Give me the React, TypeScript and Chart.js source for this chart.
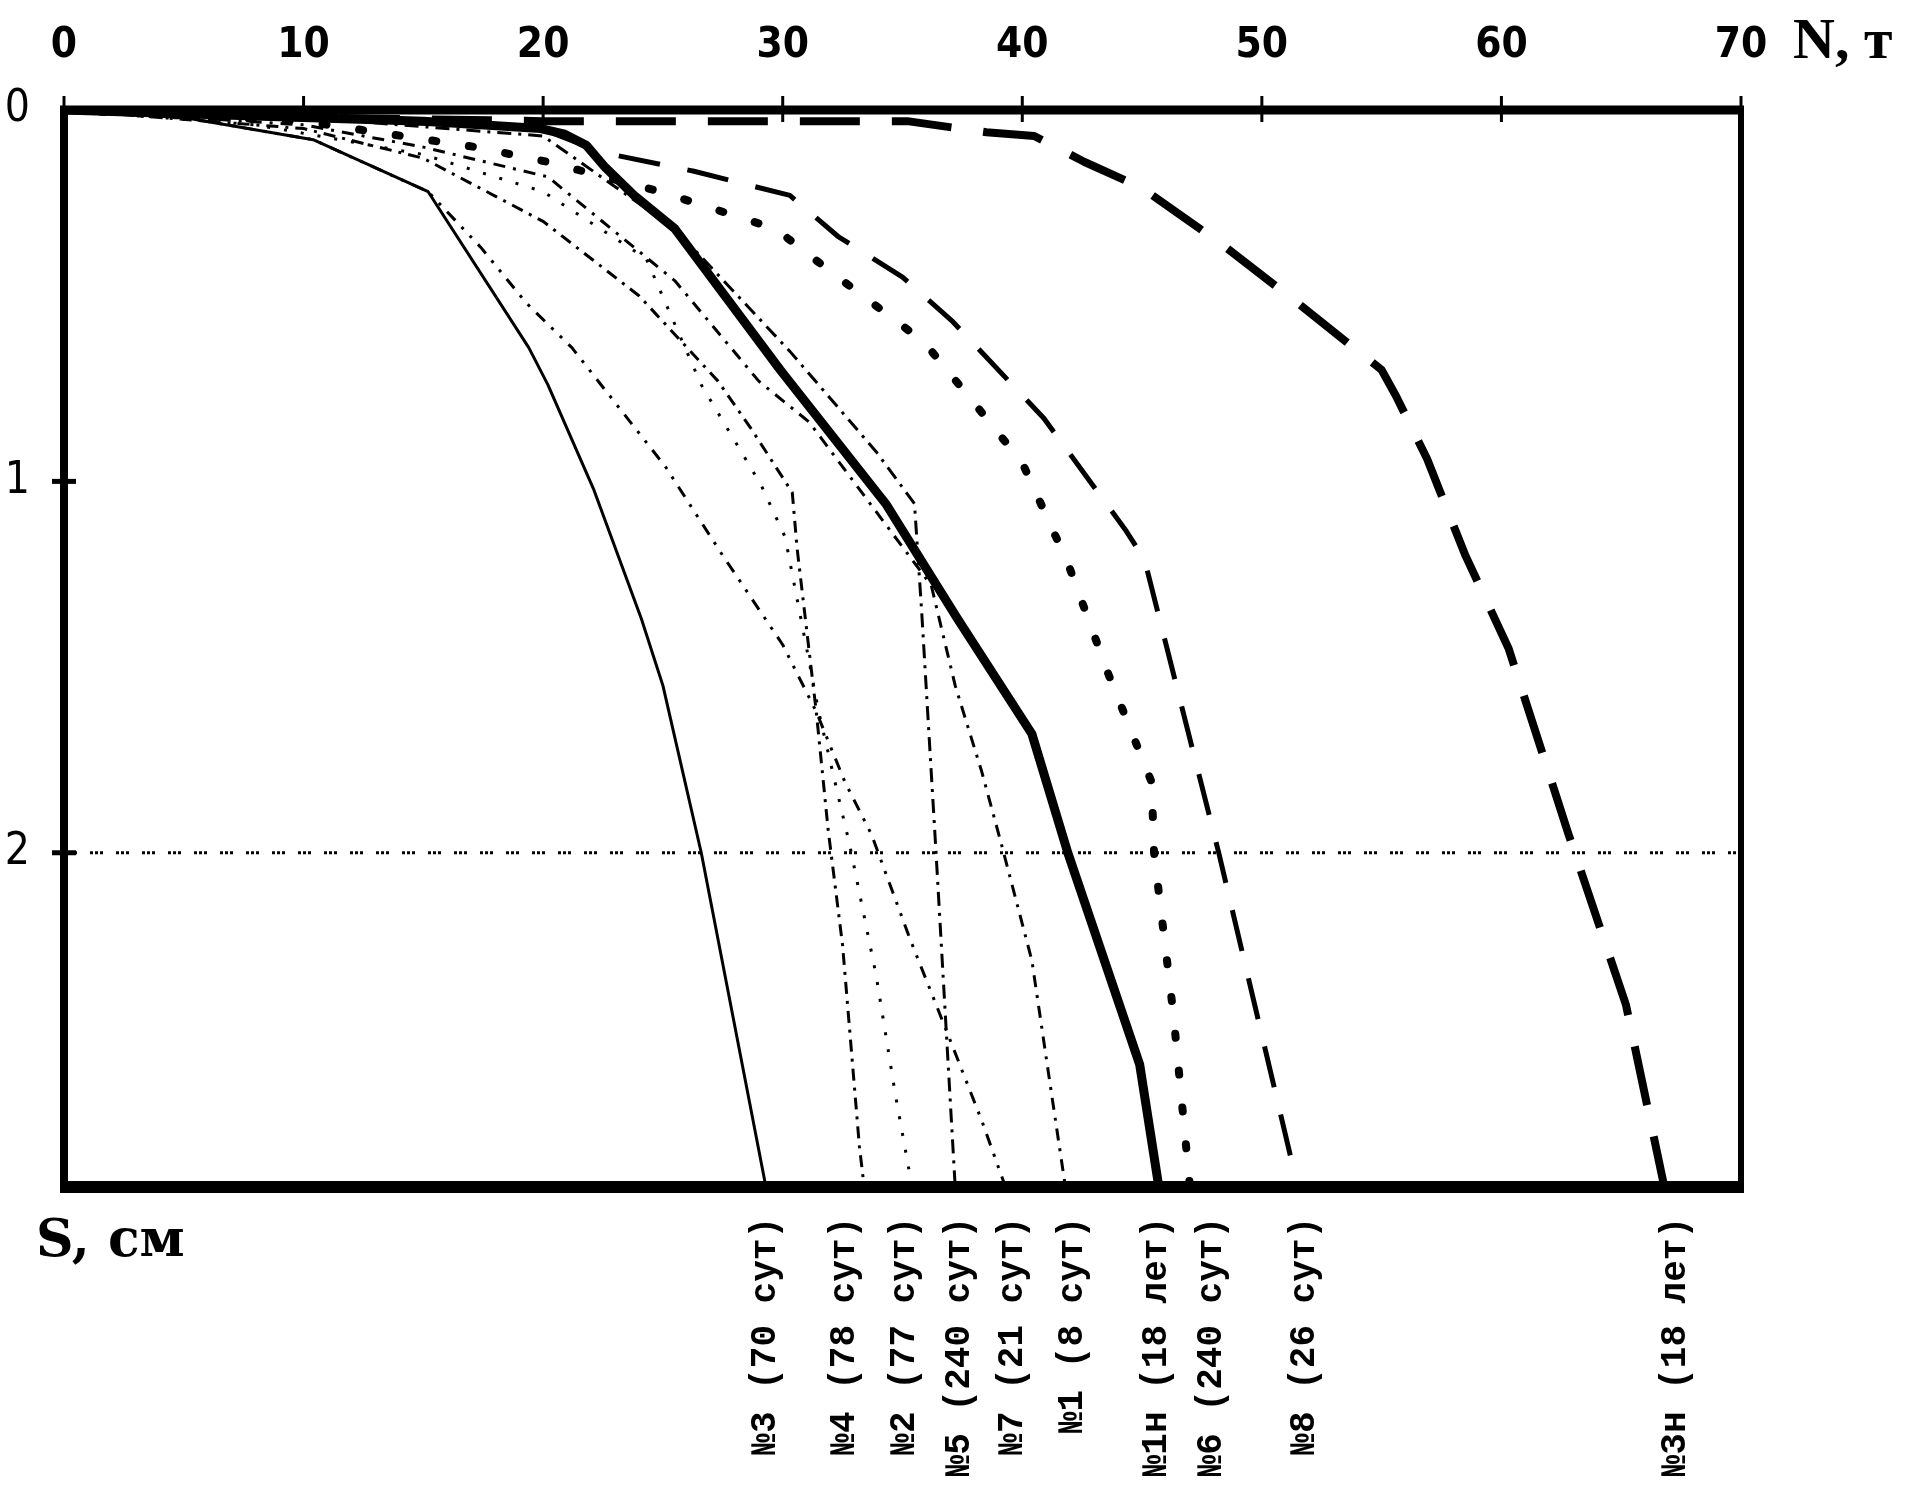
import { useEffect, useRef } from 'react'
import { Chart, registerables } from 'chart.js'

Chart.register(...registerables)

const xTicks = [0, 10, 20, 30, 40, 50, 60, 70]
const yTicks = [0, 1, 2]
const sMax = 2.9
const refS = 2

// N, т  /  S, см for every pile test
const n3 = [0, 5, 10.4, 15.2, 19.4, 20.2, 22.1, 24.1, 25.0, 26.6, 29.3]
const s3 = [0, 0.02, 0.08, 0.22, 0.64, 0.74, 1.02, 1.37, 1.55, 2.0, 2.9]

const n4 = [0, 10, 15, 20, 24, 27.3, 28.7, 30.4, 30.6, 31.2, 31.4, 31.9, 32.5, 33.2, 33.4]
const s4 = [0, 0.05, 0.13, 0.3, 0.5, 0.73, 0.86, 1.03, 1.18, 1.51, 1.62, 1.94, 2.25, 2.79, 2.9]

const n2 = [0, 8, 15, 20, 24.3, 26.6, 29.1, 30.1, 31.0, 31.5, 32.4, 32.8, 33.9, 34.7, 35.4]
const s2 = [0, 0.04, 0.12, 0.22, 0.4, 0.74, 1.01, 1.15, 1.45, 1.62, 1.87, 1.98, 2.33, 2.65, 2.9]

const n5 = [0, 10, 20, 25.5, 30.3, 33.9, 35.5, 35.8, 36.4, 37.2]
const s5 = [0, 0.02, 0.07, 0.32, 0.65, 0.92, 1.06, 1.35, 2.0, 2.9]

const n7 = [0, 5, 10.4, 15.2, 17.4, 19.3, 21.2, 25.1, 27.5, 30.0, 31.4, 32.6, 33.7, 35.3, 36.9, 38.3, 39.3]
const s7 = [0, 0.02, 0.08, 0.22, 0.37, 0.52, 0.64, 0.96, 1.2, 1.44, 1.62, 1.81, 1.95, 2.23, 2.49, 2.72, 2.9]

const n1 = [0, 10, 15, 20.2, 25.5, 29.0, 31.1, 36.2, 37.2, 38.3, 39.1, 40.4, 41.2, 41.8]
const s1 = [0, 0.04, 0.1, 0.18, 0.46, 0.73, 0.84, 1.28, 1.55, 1.78, 1.97, 2.29, 2.64, 2.9]

const n1h = [0, 10, 15, 19.9, 20.9, 21.8, 22.6, 23.8, 25.5, 29.9, 34.3, 37.3, 40.4, 41.9, 44.9, 45.7]
const s1h = [0, 0.02, 0.03, 0.05, 0.065, 0.095, 0.155, 0.23, 0.32, 0.7, 1.06, 1.37, 1.68, 2.0, 2.57, 2.9]

const n6 = [0, 10, 17.2, 20.2, 24.9, 29.7, 32.1, 35.9, 38.0, 40.0, 41.9, 43.6, 45.4, 45.5, 46.3, 47.0]
const s6 = [0, 0.03, 0.1, 0.14, 0.22, 0.32, 0.44, 0.625, 0.79, 0.95, 1.22, 1.52, 1.81, 2.0, 2.43, 2.9]

const n8 = [0, 10, 19.9, 22.5, 26.3, 30.3, 32.3, 35.0, 37.1, 40.9, 44.3, 45.1, 48.2, 51.5]
const s8 = [0, 0.02, 0.05, 0.115, 0.165, 0.23, 0.34, 0.45, 0.57, 0.83, 1.13, 1.21, 2.0, 2.9]

const n3h = [0, 10, 20, 35.2, 38.5, 40.5, 42.6, 45.0, 48.4, 51.5, 55.0, 55.6, 56.9, 58.5, 60.3, 62.8, 65.2, 66.8]
const s3h = [0, 0.02, 0.03, 0.03, 0.06, 0.07, 0.14, 0.21, 0.365, 0.52, 0.7, 0.77, 0.94, 1.2, 1.45, 1.95, 2.41, 2.9]

const pileNames = [
  '№3 (70 сут)', '№4 (78 сут)', '№2 (77 сут)', '№5 (240 сут)', '№7 (21 сут)',
  '№1 (8 сут)', '№1н (18 лет)', '№6 (240 сут)', '№8 (26 сут)', '№3н (18 лет)',
]
const pileN = [n3, n4, n2, n5, n7, n1, n1h, n6, n8, n3h]
const pileS = [s3, s4, s2, s5, s7, s1, s1h, s6, s8, s3h]

// where the rotated names sit under the axis (in N units)
const labelAt = [29.3, 32.6, 35.1, 37.4, 39.6, 42.1, 45.6, 47.9, 51.8, 67.3]

const lineStyles = [
  { width: 3, dash: [] as number[], cap: 'butt' },
  { width: 3, dash: [12, 7, 3, 7], cap: 'butt' },
  { width: 3, dash: [3, 14], cap: 'butt' },
  { width: 3, dash: [14, 7, 3, 7], cap: 'butt' },
  { width: 3, dash: [12, 9, 3, 9, 3, 9], cap: 'butt' },
  { width: 3, dash: [12, 8, 3, 8], cap: 'butt' },
  { width: 9, dash: [] as number[], cap: 'butt' },
  { width: 8, dash: [4, 33], cap: 'round' },
  { width: 5, dash: [42, 28], cap: 'butt' },
  { width: 8, dash: [60, 32], cap: 'butt' },
]

const tickFont = "'Liberation Sans Narrow', 'DejaVu Sans Condensed', 'Liberation Sans', sans-serif"

const frame = {
  id: 'frame',
  afterDatasetsDraw(chart: any) {
    const { ctx, chartArea: a, scales } = chart
    const line = (x1: number, y1: number, x2: number, y2: number, w: number) => {
      ctx.lineWidth = w
      ctx.beginPath()
      ctx.moveTo(x1, y1)
      ctx.lineTo(x2, y2)
      ctx.stroke()
    }
    ctx.save()
    ctx.strokeStyle = '#000'
    ctx.setLineDash([])
    ctx.lineCap = 'butt'
    line(a.left - 4, a.top, a.right + 3, a.top, 9)
    line(a.left, a.top - 4, a.left, a.bottom + 6, 8)
    line(a.left - 4, a.bottom, a.right + 3, a.bottom, 12)
    line(a.right, a.top - 4, a.right, a.bottom + 6, 6)
    for (const v of xTicks) {
      const x = scales.x.getPixelForValue(v)
      line(x, a.top - 14, x, a.top + 12, 3)
    }
    for (const v of yTicks) {
      if (v === 0) continue
      const y = scales.y.getPixelForValue(v)
      line(a.left - 12, y, a.left + 12, y, 5)
    }
    ctx.restore()
  },
  afterDraw(chart: any) {
    const { ctx, chartArea: a, scales } = chart
    ctx.save()
    ctx.fillStyle = '#000'
    ctx.font = "bold 36px 'Liberation Mono', monospace"
    ctx.textAlign = 'right'
    ctx.textBaseline = 'middle'
    pileNames.forEach((name, i) => {
      const x = scales.x.getPixelForValue(labelAt[i])
      ctx.save()
      ctx.translate(x, a.bottom + 30)
      ctx.rotate(-Math.PI / 2)
      ctx.fillText(name, 0, 0)
      ctx.restore()
    })
    ctx.textAlign = 'left'
    ctx.textBaseline = 'alphabetic'
    ctx.font = "bold 58px 'Liberation Serif', serif"
    ctx.fillText('N, т', 1793, 58)
    ctx.font = "bold 52px 'DejaVu Serif', serif"
    ctx.fillText('S, см', 36, 1256)
    ctx.restore()
  },
}

export default function App() {
  const canvasRef = useRef<HTMLCanvasElement | null>(null)
  const chartRef = useRef<Chart | null>(null)

  useEffect(() => {
    if (!canvasRef.current) return
    const ctx = canvasRef.current.getContext('2d')!

    const datasets: any[] = pileNames.map((name, i) => ({
      label: name,
      data: pileN[i].map((n, k) => ({ x: n, y: pileS[i][k] })),
      showLine: true,
      pointRadius: 0,
      borderColor: '#000',
      borderWidth: lineStyles[i].width,
      borderDash: lineStyles[i].dash,
      borderCapStyle: lineStyles[i].cap,
      borderJoinStyle: 'round',
      tension: 0,
    }))
    datasets.push({
      label: 'S = 2',
      data: [{ x: xTicks[0], y: refS }, { x: xTicks[xTicks.length - 1], y: refS }],
      showLine: true,
      pointRadius: 0,
      borderColor: '#000',
      borderWidth: 3,
      borderDash: [3, 2, 3, 2, 3, 13],
    })

    chartRef.current = new Chart(ctx, {
      type: 'scatter',
      data: { datasets },
      options: {
        animation: false,
        responsive: true,
        maintainAspectRatio: false,
        layout: { padding: { left: 0, top: 0, right: 168, bottom: 322 } },
        plugins: { legend: { display: false }, tooltip: { enabled: false } },
        scales: {
          x: {
            type: 'linear',
            position: 'top',
            min: 0,
            max: 70,
            afterBuildTicks: (s: any) => { s.ticks = xTicks.map((v) => ({ value: v })) },
            afterFit: (s: any) => { s.height = 110 },
            grid: { display: false },
            border: { display: false },
            ticks: { color: '#000', padding: 31, maxRotation: 0, font: { family: tickFont, size: 42, weight: 'bold' } },
          },
          y: {
            type: 'linear',
            reverse: true,
            min: 0,
            max: sMax,
            afterBuildTicks: (s: any) => { s.ticks = yTicks.map((v) => ({ value: v })) },
            afterFit: (s: any) => { s.width = 64 },
            grid: { display: false },
            border: { display: false },
            ticks: { color: '#000', padding: 26, font: { family: tickFont, size: 44 } },
          },
        },
      } as any,
      plugins: [frame],
    })

    return () => chartRef.current?.destroy()
  }, [])

  return (
    <div style={{ position: 'absolute', left: 0, top: 0, width: 1909, height: 1509, background: '#fff' }}>
      <canvas ref={canvasRef} />
    </div>
  )
}
